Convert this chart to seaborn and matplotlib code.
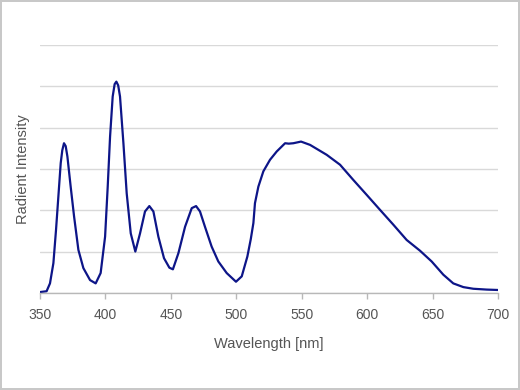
import numpy as np
import pandas as pd
import matplotlib
matplotlib.use("Agg")
import matplotlib.pyplot as plt
import seaborn as sns

# spectrum (wavelength nm, relative intensity)
wavelength = [350, 355, 357.6, 360.2, 362.2, 364, 365.8, 367, 368.3, 369.6, 370.9, 373.4, 376,
              379.3, 383.1, 388.2, 392.5, 396.3, 399.7, 401.7, 403.5, 405.5, 407, 408.3, 409.7,
              411.1, 413.7, 416.2, 419.3, 422.8, 426.4, 430.2, 433.5, 436.6, 440.4, 444.7, 448.8,
              451.5, 455.7, 460.8, 465.9, 469.2, 472.2, 476, 481.1, 486.2, 492.6, 499.7, 504.1,
              508.4, 511, 513, 514.2, 516.8, 520.6, 525.7, 530.8, 537.2, 540, 543.5, 549.4, 556.3,
              569, 579.2, 589.4, 599.6, 609.7, 619.9, 630.1, 640.3, 649.2, 658.1, 665.7, 673.4,
              681, 691.2, 700]
intensity = [0.02, 0.04, 0.23, 0.72, 1.52, 2.33, 3.14, 3.45, 3.62, 3.55, 3.30, 2.57, 1.85,
             1.04, 0.6, 0.31, 0.23, 0.48, 1.36, 2.57, 3.78, 4.75, 5.05, 5.11, 5.02,
             4.75, 3.62, 2.41, 1.44, 1.0, 1.44, 1.97, 2.1, 1.97, 1.36, 0.84, 0.61,
             0.57, 0.96, 1.6, 2.05, 2.1, 1.97, 1.6, 1.12, 0.76, 0.48, 0.27, 0.4,
             0.88, 1.3, 1.69, 2.17, 2.57, 2.94, 3.22, 3.42, 3.62, 3.61, 3.62, 3.66, 3.58,
             3.34, 3.1, 2.73, 2.37, 2.01, 1.65, 1.28, 1.02, 0.76, 0.44, 0.23, 0.14,
             0.1, 0.08, 0.07]
xticks = [350, 400, 450, 500, 550, 600, 650, 700]

df = pd.DataFrame({"Wavelength": wavelength, "Intensity": intensity})

sns.set_theme(style="white")
plt.rcParams["font.family"] = ["Liberation Sans", "DejaVu Sans"]

fig = plt.figure(figsize=(5.2, 3.9), dpi=100)
fig.patch.set_edgecolor("#c8c8c8")
fig.patch.set_linewidth(1.5)
ax = fig.add_axes([0.077, 0.249, 0.881, 0.636])

sns.lineplot(data=df, x="Wavelength", y="Intensity", ax=ax, color="#0d1588",
             linewidth=1.6, solid_joinstyle="round")

ax.set_xlim(350, 700)
ax.set_ylim(0, 6)
ax.set_xticks(xticks)
ax.set_yticks(range(0, 7))
ax.set_yticklabels([])
ax.yaxis.grid(True, color="#d9d9d9", linewidth=1)
ax.set_axisbelow(True)
for s in ["top", "right", "left"]:
    ax.spines[s].set_visible(False)
ax.spines["bottom"].set_color("#b8b8b8")
ax.spines["bottom"].set_linewidth(1)
ax.tick_params(axis="x", colors="#b8b8b8", length=4, width=1, labelcolor="#555555",
               labelsize=10, pad=7, bottom=True)
ax.tick_params(axis="y", length=0)
ax.set_xlabel("Wavelength [nm]", color="#555555", fontsize=10.5, labelpad=11)
ax.set_ylabel("Radient Intensity", color="#555555", fontsize=10.5, labelpad=4)

fig.savefig("out.png", dpi=100)
